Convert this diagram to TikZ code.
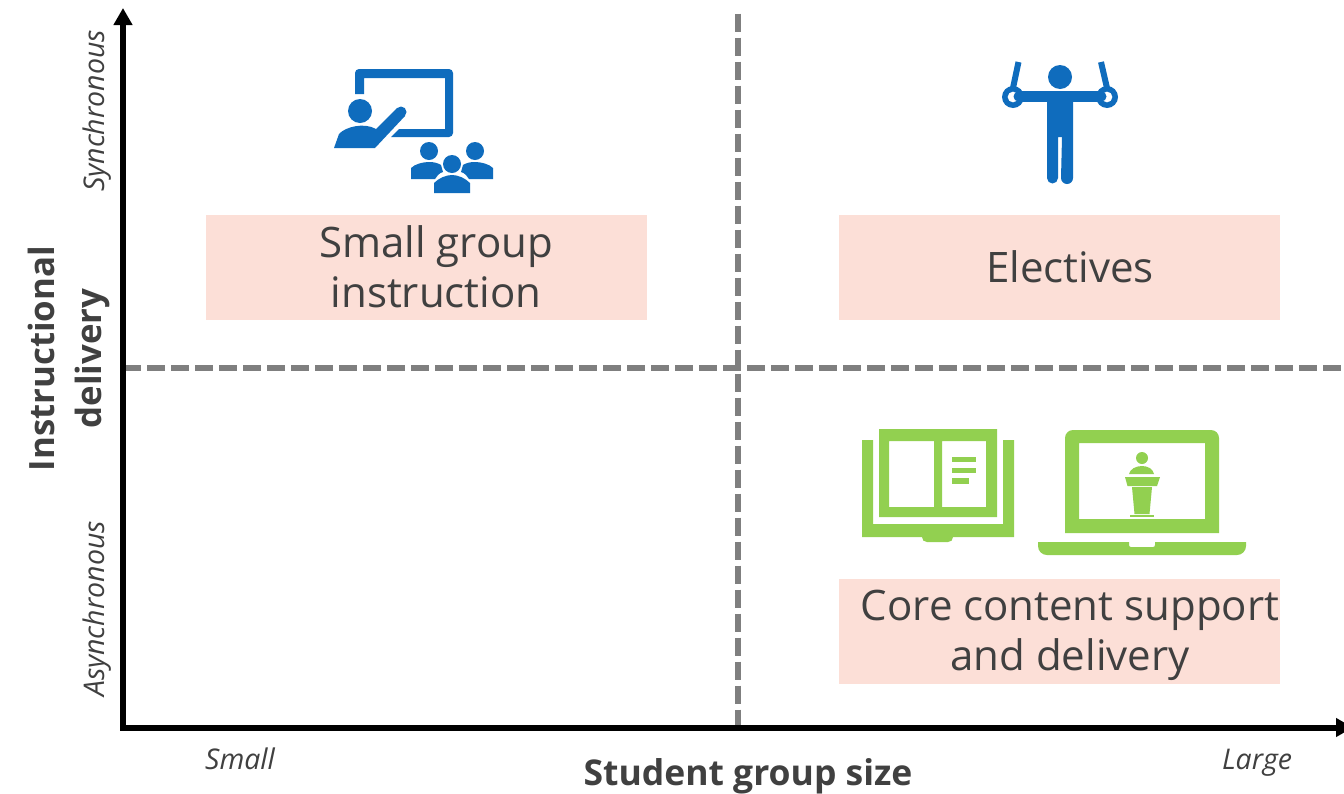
\documentclass[tikz,border=0pt]{standalone}
\usepackage{fontspec}
\setmainfont{Open Sans}
\usetikzlibrary{arrows.meta}
\definecolor{iconblue}{HTML}{0F6CBD}
\definecolor{icongreen}{HTML}{92D050}
\definecolor{pinkbox}{HTML}{FCDFD7}
\definecolor{txt}{HTML}{404040}
\definecolor{dashgray}{HTML}{7F7F7F}
\tikzset{
  labelbox/.style={fill=pinkbox,minimum width=441pt,minimum height=105pt,inner sep=0pt},
  boxtext/.style={text=txt,align=center,inner sep=0pt,font=\fontsize{42}{50}\selectfont},
  axis/.style={line width=6pt,-{Triangle[length=17pt,width=18pt]}},
  divider/.style={line width=6pt,dashgray,dash pattern=on 18pt off 6pt},
  tick/.style={text=txt,font=\fontsize{28.5}{34}\selectfont\itshape,inner sep=0pt},
  axistitle/.style={text=txt,font=\fontsize{35.5}{47}\selectfont\bfseries,inner sep=0pt,align=center},
  vaxistitle/.style={text=txt,font=\fontsize{34.8}{47}\selectfont\bfseries,inner sep=0pt,align=center},
  blueicon/.style={fill=iconblue,draw=none},
  greenicon/.style={fill=icongreen,draw=none},
}
\begin{document}
\begin{tikzpicture}[x=1pt,y=-1pt]
\useasboundingbox (0,0) rectangle (1344,793);
\fill[white] (0,0) rectangle (1344,793);
% axes
\coordinate (origin) at (123,727.5);
\coordinate (ytip) at (123,8);
\coordinate (xtip) at (1353,727.5);
\coordinate (vtop) at (738.3,13.5);
\coordinate (vbot) at (738.3,727);
\coordinate (hleft) at (123,367.8);
\coordinate (hright) at (1344,367.8);
\draw[divider] (vtop) -- (vbot);
\draw[divider] (hleft) -- (hright);
\draw[axis] ([yshift=3pt]origin) -- (ytip);
\draw[axis] ([xshift=-3pt]origin) -- (xtip);
% boxes
\node[labelbox] (small) at (426.5,267.5) {};
\node[labelbox] (electives) at (1059.5,267.5) {};
\node[labelbox] (core) at (1059.5,631.5) {};
\node[boxtext] (smalltext) at (436,267) {Small group\\instruction};
\node[boxtext] (electivestext) at (1070,267) {Electives};
\node[boxtext] (coretext) at (1070,635) {Core content support\\and delivery};
% axis texts
\node[tick,rotate=90] (sync) at (97,111) {Synchronous};
\node[tick,rotate=90] (async) at (97,609) {Asynchronous};
\node[tick] (smalltick) at (240,759) {Small};
\node[tick] (largetick) at (1257,763) {Large};
\node[axistitle] (xtitle) at (748,776) {Student group size};
\node[vaxistitle,rotate=90] (ytitle) at (68.5,358.5) {Instructional\\delivery};
% teacher icon
\fill[blueicon] (355,94) -- (355,73) arc[start angle=180,end angle=270,radius=4] -- (449,69) arc[start angle=270,end angle=360,radius=4] -- (453,133) arc[start angle=0,end angle=90,radius=4] -- (391,137) -- (399,129) -- (445,129) -- (445,78) -- (364,78) -- (364,94) -- cycle;
\fill[blueicon] (360,111) circle[radius=12];
\fill[blueicon] (334,148) -- (339,134) .. controls (345,127) and (364,122) .. (376,129) -- (397,108) -- (405,116) -- (375,148) -- cycle;
\fill[blueicon] (401,112) circle[radius=5.5];
\fill[blueicon] (429,151) circle[radius=9];
\fill[blueicon] (475,151) circle[radius=9];
\fill[blueicon] (452,164) circle[radius=9];
\fill[blueicon] (411,179) -- (411,168) .. controls (415,164) and (423,162) .. (429,162) .. controls (434,162) and (438,163) .. (441,165) -- (443,172) .. controls (439,173) and (437,176) .. (435,179) -- cycle;
\fill[blueicon] (493,179) -- (493,168) .. controls (489,164) and (481,162) .. (475,162) .. controls (470,162) and (466,163) .. (463,165) -- (461,172) .. controls (465,173) and (467,176) .. (469,179) -- cycle;
\fill[blueicon] (434,193) -- (434,183) .. controls (439,178) and (446,175) .. (452,175) .. controls (458,175) and (465,178) .. (470,183) -- (470,193) -- cycle;
% rings icon
\fill[blueicon] (1060,77) circle[radius=12];
\fill[blueicon] (1018,91) rectangle (1102,102);
\fill[blueicon] (1047,95) -- (1073,95) -- (1073,178) arc[start angle=0,end angle=180,radius=6] -- (1062,137) -- (1058,137) -- (1058,178) arc[start angle=0,end angle=180,radius=5.5] -- cycle;
\fill[blueicon,even odd rule] (1013,97) circle[radius=11] (1013,97) circle[radius=5.5];
\fill[blueicon,even odd rule] (1107,97) circle[radius=11] (1107,97) circle[radius=5.5];
\fill[blueicon] (1018.5,96.5) circle[radius=5];
\fill[blueicon] (1101.5,96.5) circle[radius=5];
\draw[iconblue,line width=6pt] (1018.5,62) -- (1013,88);
\draw[iconblue,line width=6pt] (1101,62) -- (1107,88);
% book icon
\fill[greenicon,even odd rule] (879,429) rectangle (997,517) (889,441) rectangle (934,507) (942,441) rectangle (986,507);
\fill[greenicon] (952,457) rectangle (976,462);
\fill[greenicon] (952,467.5) rectangle (976,473);
\fill[greenicon] (952,478) rectangle (969,483.5);
\fill[greenicon] (862,440) -- (873,440) -- (873,524) -- (1003,524) -- (1003,440) -- (1014,440) -- (1014,537) -- (862,537) -- cycle;
\fill[greenicon] (922,537) -- (953,537) .. controls (953,540) and (951,542) .. (948,542) -- (927,542) .. controls (924,542) and (922,540) .. (922,537) -- cycle;
% laptop icon
\fill[greenicon,even odd rule] (1065,533) -- (1065,438) arc[start angle=180,end angle=270,radius=8] -- (1211,430) arc[start angle=270,end angle=360,radius=8] -- (1219,533) -- cycle (1079,443) rectangle (1205,519);
\fill[greenicon] (1038,542) -- (1129,542) -- (1129,545) .. controls (1129,546.5) and (1130,547) .. (1131,547) -- (1153,547) .. controls (1154,547) and (1155,546.5) .. (1155,545) -- (1155,542) -- (1246,542) -- (1246,546) arc[start angle=0,end angle=90,radius=9] -- (1047,555) arc[start angle=90,end angle=180,radius=9] -- cycle;
\fill[greenicon] (1142,458) circle[radius=6];
\fill[greenicon] (1129,474) .. controls (1130,469) and (1136,466) .. (1142,466) .. controls (1148,466) and (1153,469) .. (1154,474) -- cycle;
\fill[greenicon] (1125,477) -- (1160,477) -- (1157,486) -- (1127.5,486) -- cycle;
\fill[greenicon] (1132,487) -- (1152,487) -- (1149.5,514) -- (1134.5,514) -- cycle;
\fill[greenicon] (1130,514.5) rectangle (1154,517);
\end{tikzpicture}
\end{document}
